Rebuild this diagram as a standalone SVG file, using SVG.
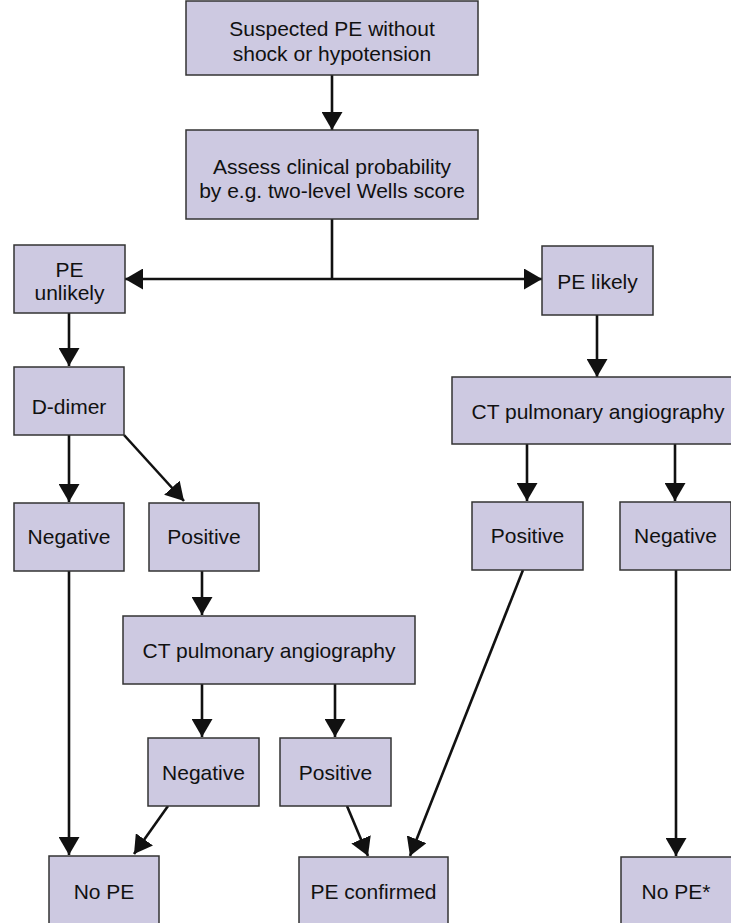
<svg xmlns="http://www.w3.org/2000/svg" width="731" height="923" viewBox="0 0 731 923">
<defs>
<style>
.box{fill:#cdc9e1;stroke:#333;stroke-width:1.5}
.t{font-family:"Liberation Sans",Arial,sans-serif;font-size:21px;fill:#111;text-anchor:middle}
.c{stroke:#111;stroke-width:2.6;fill:none}
.a{marker-end:url(#ah)}
</style>
<marker id="ah" markerUnits="userSpaceOnUse" markerWidth="20" markerHeight="21" refX="18" refY="10.5" orient="auto-start-reverse" viewBox="0 0 20 21">
<path d="M0,0 L18,10.5 L0,21 Z" fill="#111"/>
</marker>
</defs>
<rect width="731" height="923" fill="#fff"/>
<g id="connectors">
<line class="c a" x1="332" y1="75" x2="332" y2="130"/>
<line class="c" x1="332" y1="219" x2="332" y2="279"/>
<line class="c a" x1="332" y1="279" x2="542" y2="279"/>
<line class="c a" x1="332" y1="279" x2="125" y2="279"/>
<line class="c a" x1="69" y1="313" x2="69" y2="366"/>
<line class="c a" x1="597" y1="315" x2="597" y2="377"/>
<line class="c a" x1="69" y1="435" x2="69" y2="502"/>
<line class="c a" x1="124" y1="435" x2="184" y2="501"/>
<line class="c a" x1="527" y1="444" x2="527" y2="501"/>
<line class="c a" x1="675" y1="444" x2="675" y2="501"/>
<line class="c a" x1="202" y1="571" x2="202" y2="615"/>
<line class="c a" x1="202" y1="684" x2="202" y2="737"/>
<line class="c a" x1="335" y1="684" x2="335" y2="737"/>
<line class="c a" x1="69" y1="571" x2="69" y2="855"/>
<line class="c a" x1="168" y1="806" x2="134" y2="854"/>
<line class="c a" x1="347" y1="806" x2="368" y2="856"/>
<line class="c a" x1="523" y1="570" x2="410" y2="856"/>
<line class="c a" x1="676" y1="570" x2="676" y2="856"/>
</g>
<g id="start"><rect class="box" x="186" y="1" width="292" height="74"/><text class="t" x="332" y="36">Suspected PE without</text><text class="t" x="332" y="61">shock or hypotension</text></g>
<g id="assess"><rect class="box" x="186" y="130" width="292" height="89"/><text class="t" x="332" y="174">Assess clinical probability</text><text class="t" x="332" y="198">by e.g. two-level Wells score</text></g>
<g id="unlikely"><rect class="box" x="14" y="245" width="111" height="68"/><text class="t" x="69.5" y="277">PE</text><text class="t" x="69.5" y="300">unlikely</text></g>
<g id="likely"><rect class="box" x="542" y="246" width="111" height="69"/><text class="t" x="597.5" y="289">PE likely</text></g>
<g id="ddimer"><rect class="box" x="14" y="367" width="110" height="68"/><text class="t" x="69" y="414">D-dimer</text></g>
<g id="ct-right"><rect class="box" x="452" y="377" width="292" height="67"/><text class="t" x="598" y="419">CT pulmonary angiography</text></g>
<g id="neg-left"><rect class="box" x="14" y="503" width="110" height="68"/><text class="t" x="69" y="544">Negative</text></g>
<g id="pos-left"><rect class="box" x="149" y="503" width="110" height="68"/><text class="t" x="204" y="544">Positive</text></g>
<g id="pos-right"><rect class="box" x="472" y="502" width="111" height="68"/><text class="t" x="527.5" y="543">Positive</text></g>
<g id="neg-right"><rect class="box" x="620" y="502" width="111" height="68"/><text class="t" x="675.5" y="543">Negative</text></g>
<g id="ct-mid"><rect class="box" x="123" y="616" width="292" height="68"/><text class="t" x="269" y="658">CT pulmonary angiography</text></g>
<g id="neg-mid"><rect class="box" x="148" y="738" width="111" height="68"/><text class="t" x="203.5" y="780">Negative</text></g>
<g id="pos-mid"><rect class="box" x="280" y="738" width="111" height="68"/><text class="t" x="335.5" y="780">Positive</text></g>
<g id="nope"><rect class="box" x="49" y="856" width="110" height="74"/><text class="t" x="104" y="899">No PE</text></g>
<g id="confirmed"><rect class="box" x="299" y="857" width="149" height="73"/><text class="t" x="373.5" y="899">PE confirmed</text></g>
<g id="nope-star"><rect class="box" x="621" y="857" width="111" height="73"/><text class="t" x="676" y="899">No PE*</text></g>
</svg>
